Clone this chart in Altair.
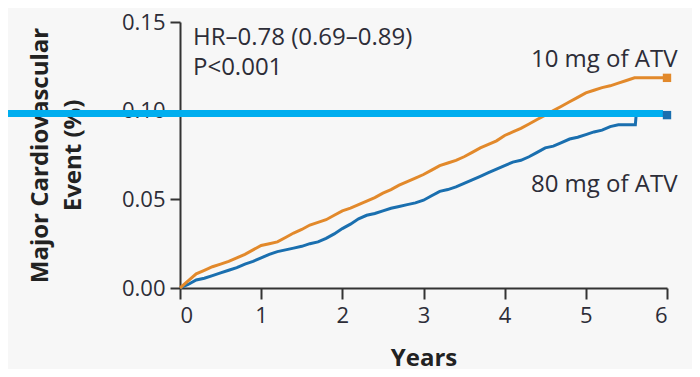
import altair as alt
import pandas as pd

# ---- data ----
years_10 = [0.0, 0.1, 0.2, 0.3, 0.4, 0.5, 0.6, 0.7, 0.8, 0.9,
            1.0, 1.1, 1.2, 1.3, 1.4, 1.5, 1.6, 1.7, 1.8, 1.9,
            2.0, 2.1, 2.2, 2.3, 2.4, 2.5, 2.6, 2.7, 2.8, 2.9,
            3.0, 3.1, 3.2, 3.3, 3.4, 3.5, 3.6, 3.7, 3.8, 3.9,
            4.0, 4.1, 4.2, 4.3, 4.4, 4.5, 4.6, 4.7, 4.8, 4.9,
            5.0, 5.1, 5.2, 5.3, 5.4, 5.5, 5.6, 6.0]
event_10 = [0.000, 0.004, 0.008, 0.010, 0.012, 0.0135, 0.015, 0.017, 0.019, 0.0215,
            0.024, 0.025, 0.026, 0.0285, 0.031, 0.033, 0.0355, 0.037, 0.0385, 0.041,
            0.0435, 0.045, 0.047, 0.049, 0.051, 0.0535, 0.0555, 0.058, 0.060, 0.062,
            0.064, 0.0665, 0.069, 0.0705, 0.072, 0.074, 0.0765, 0.079, 0.081, 0.083,
            0.086, 0.088, 0.090, 0.0925, 0.095, 0.0975, 0.100, 0.1025, 0.105, 0.1075,
            0.110, 0.1115, 0.113, 0.114, 0.1155, 0.117, 0.1185, 0.1185]

years_80 = [0.0, 0.1, 0.2, 0.3, 0.4, 0.5, 0.6, 0.7, 0.8, 0.9,
            1.0, 1.1, 1.2, 1.3, 1.4, 1.5, 1.6, 1.7, 1.8, 1.9,
            2.0, 2.1, 2.2, 2.3, 2.4, 2.5, 2.6, 2.7, 2.8, 2.9,
            3.0, 3.1, 3.2, 3.3, 3.4, 3.5, 3.6, 3.7, 3.8, 3.9,
            4.0, 4.1, 4.2, 4.3, 4.4, 4.5, 4.6, 4.7, 4.8, 4.9,
            5.0, 5.1, 5.2, 5.3, 5.4, 5.61, 5.62, 6.0]
event_80 = [0.000, 0.002, 0.0045, 0.0055, 0.007, 0.0085, 0.010, 0.0115, 0.0135, 0.015,
            0.017, 0.019, 0.0205, 0.0215, 0.0225, 0.0235, 0.025, 0.026, 0.028, 0.0305,
            0.0335, 0.036, 0.039, 0.041, 0.042, 0.0435, 0.045, 0.046, 0.047, 0.048,
            0.0495, 0.052, 0.0545, 0.0555, 0.057, 0.059, 0.061, 0.063, 0.065, 0.067,
            0.069, 0.071, 0.072, 0.074, 0.0765, 0.079, 0.080, 0.082, 0.084, 0.085,
            0.0865, 0.088, 0.089, 0.091, 0.092, 0.092, 0.0975, 0.0975]

group_names = ["10 mg of ATV", "80 mg of ATV"]
group_colors = ["#E2892B", "#1A6FAF"]

x_ticks = [0, 1, 2, 3, 4, 5, 6]
y_ticks = [0.00, 0.05, 0.10, 0.15]

ref_line_value = 0.0984
ref_line_color = "#00AEEF"

ann_text = ["HR\u20130.78 (0.69\u20130.89)", "P<0.001"]
ann_x = [0.16, 0.16]
ann_y = [0.137, 0.120]

lab_text = ["10 mg of ATV", "80 mg of ATV"]
lab_x = [6.13, 6.13]
lab_y = [0.1246, 0.0541]

# ---- tables ----
df10 = pd.DataFrame({"year": years_10, "event": event_10, "group": group_names[0]})
df80 = pd.DataFrame({"year": years_80, "event": event_80, "group": group_names[1]})
ends = pd.DataFrame({"year": [years_10[-1], years_80[-1]],
                     "event": [event_10[-1], event_80[-1]],
                     "group": group_names})
ann = pd.DataFrame({"year": ann_x, "event": ann_y, "text": ann_text})
labs = pd.DataFrame({"year": lab_x, "event": lab_y, "text": lab_text})
ref = pd.DataFrame({"event": [ref_line_value]})

FONT = "Open Sans"
TXT = "#2d2d38"

xscale = alt.Scale(domain=[0, 6], nice=False, zero=False)
yscale = alt.Scale(domain=[0, 0.15], nice=False)
color = alt.Color("group:N", scale=alt.Scale(domain=group_names, range=group_colors), legend=None)

x_enc = alt.X("year:Q", scale=xscale,
              axis=alt.Axis(values=x_ticks, format="d", title="Years", grid=False,
                            domainColor="#333", domainWidth=2, tickColor="#333", tickWidth=2,
                            tickSize=11, labelPadding=6, labelFontSize=22, labelColor=TXT,
                            labelFont=FONT, titleFont=FONT, titleFontSize=24,
                            titleFontWeight="bold", titleColor="#222", titlePadding=20))
y_enc = alt.Y("event:Q", scale=yscale,
              axis=alt.Axis(values=y_ticks, format=".2f",
                            title=["Major Cardiovascular", "Event (%)"], grid=False,
                            domainColor="#333", domainWidth=2, tickColor="#333", tickWidth=2,
                            tickSize=10, labelPadding=5, labelFontSize=22, labelColor=TXT,
                            labelFont=FONT, titleFont=FONT, titleFontSize=24,
                            titleFontWeight="bold", titleColor="#222",
                            titleX=-140, titleY=133, titleAlign="center",
                            titleBaseline="middle", titleLineHeight=33))

line80 = alt.Chart(df80).mark_line(interpolate="linear", strokeWidth=3).encode(
    x=x_enc, y=y_enc, color=color)
line10 = alt.Chart(df10).mark_line(interpolate="linear", strokeWidth=3).encode(
    x="year:Q", y="event:Q", color=color)

rule = alt.Chart(ref).mark_rule(color=ref_line_color, strokeWidth=7).encode(
    y="event:Q", x=alt.value(-172), x2=alt.value(483))

marks = alt.Chart(ends).mark_square(size=70, opacity=1).encode(
    x="year:Q", y="event:Q", color=color)

ann_layer = alt.Chart(ann).mark_text(align="left", baseline="alphabetic", font=FONT,
                                     fontSize=24, color=TXT).encode(
    x="year:Q", y="event:Q", text="text:N")
lab_layer = alt.Chart(labs).mark_text(align="right", baseline="alphabetic", font=FONT,
                                      fontSize=24, color=TXT).encode(
    x="year:Q", y="event:Q", text="text:N")

chart = alt.layer(line80, line10, rule, marks, ann_layer, lab_layer).properties(
    width=487, height=266,
    autosize=alt.AutoSizeParams(type="none"),
    padding={"left": 172, "top": 14, "right": 25, "bottom": 81},
    background="#f7f7f7",
).configure_view(strokeWidth=0)

chart.save("out.html", embed_options={"renderer": "svg", "actions": False})
